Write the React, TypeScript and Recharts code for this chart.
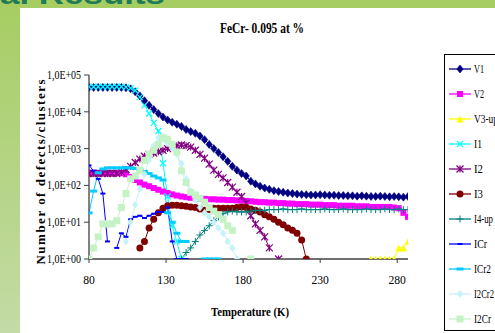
import React from 'react';
import { LineChart, Line, XAxis, YAxis } from 'recharts';

const N = null;

const temps = [
  80, 83, 86, 89, 92, 95, 98, 101, 104, 107,
  110, 113, 116, 119, 122, 125, 128, 131, 134, 137,
  140, 143, 146, 149, 152, 155, 158, 161, 164, 167,
  170, 173, 176, 179, 182, 185, 188, 191, 194, 197,
  200, 203, 206, 209, 212, 215, 218, 221, 224, 227,
  230, 233, 236, 239, 242, 245, 248, 251, 254, 257,
  260, 263, 266, 269, 272, 275, 278, 281, 284, 287,
];

const v1 = [
  46000, 46000, 46000, 46000, 46000, 46000, 46000, 46000, 45000, 42000,
  35000, 27000, 20000, 15000, 11500, 9000, 7200, 6000, 5200, 4600,
  4000, 3300, 2900, 2600, 2200, 1750, 1300, 1000, 780, 600,
  450, 330, 260, 210, 180, 130, 110, 95, 85, 78,
  72, 68, 65, 62, 60, 58, 57, 56, 55, 55,
  56, 55, 54, 54, 53, 53, 52, 52, 51, 52,
  51, 50, 50, 51, 50, 49, 50, 49, 48, 50,
];

const v2 = [
  220, 220, 220, 220, 220, 220, 220, 215, 200, 170,
  140, 120, 105, 95, 85, 76, 68, 62, 57, 53,
  50, 48, 46, 45, 44, 43, 42, 42, 41, 41,
  40, 40, 39, 39, 38, 37, 36, 35, 35, 34,
  34, 33, 33, 32, 32, 31, 31, 31, 30, 30,
  30, 29, 29, 29, 28, 28, 28, 28, 27, 27,
  27, 26, 26, 26, 26, 26, 25, 24, 18, 14,
];

const v3up = [
  N, N, N, N, N, N, N, N, N, N,
  N, N, N, N, N, N, N, N, N, N,
  N, N, N, N, N, N, N, N, N, N,
  N, N, N, N, N, N, N, N, N, N,
  N, N, N, N, N, N, N, N, N, N,
  N, N, N, N, N, N, N, N, N, N,
  N, 1, 1, 1, 1, 1, 1, 2, 2, 3,
];

const i1 = [
  48000, 48000, 48000, 48000, 48000, 48000, 48000, 48000, 47000, 44000,
  38000, 25000, 15000, 9000, 5000, 3000, 400, 50, 8, 3,
  1, N, N, N, N, N, N, N, N, N,
  N, N, N, N, N, N, N, N, N, N,
  N, N, N, N, N, N, N, N, N, N,
  N, N, N, N, N, N, N, N, N, N,
  N, N, N, N, N, N, N, N, N, N,
];

const i2 = [
  210, 210, 210, 210, 210, 210, 210, 230, 270, 330,
  420, 520, 620, 700, 750, 820, 900, 1000, 1100, 1200,
  1250, 1200, 1100, 900, 700, 550, 380, 260, 200, 160,
  120, 90, 65, 50, 33, 15, 9, 6, 4, 2,
  N, 1, N, N, N, N, N, N, N, N,
  N, N, N, N, N, N, N, N, N, N,
  N, N, N, N, N, N, N, N, N, N,
];

const i3 = [
  N, N, N, N, N, N, N, N, N, N,
  N, 2, 3, 7, 12, 18, 24, 28, 29, 29,
  28, 27, 26, 25, 23, 21, 22, 24, 24, 24,
  24, 24, 25, 26, 25, 23, 21, 19, 16, 14,
  12, 10, 8.5, 7, 6, 5, 3.3, 1, N, N,
  N, N, N, N, N, N, N, N, N, N,
  N, N, N, N, N, N, N, N, N, N,
];

const i4up = [
  N, N, N, N, N, N, N, N, N, N,
  N, N, N, N, N, N, N, N, N, N,
  1, 1.5, 2, 3, 4.5, 6, 8, 11, 14, 17,
  19, 20, 19, 19, 19, 20, 21, 21, 21, 22,
  22, 22, 23, 22, 22, 22, 23, 22, 22, 22,
  22, 23, 22, 22, 22, 23, 22, 22, 22, 22,
  23, 22, 22, 22, 23, 22, 22, 23, 22, 22,
];

const icr = [
  350, 250, 150, 60, 3, N, 2, 5, 4, 12,
  14, 15, 13, 15, 17, 19, 19, 25, 3, 1,
  1, 1, N, N, N, 1, 1, 1, 1, N,
  N, N, N, N, N, N, N, N, N, N,
  N, N, N, N, N, N, N, N, N, N,
  N, N, N, N, N, N, N, N, N, N,
  N, N, N, N, N, N, N, N, N, N,
];

const icr2 = [
  18, 70, 220, 280, 300, 300, 300, 300, 300, 300,
  290, 270, 240, 210, 180, 160, 140, 18, 10, 5,
  3, 3, N, N, N, 1, 1, 1, 1, N,
  N, N, N, N, N, N, N, N, N, N,
  N, N, N, N, N, N, N, N, N, N,
  N, N, N, N, N, N, N, N, N, N,
  N, N, N, N, N, N, N, N, N, N,
];

const i2cr2 = [
  N, N, N, N, N, N, N, N, 3, 10,
  30, 80, 200, 500, 1200, 2000, 1800, 1400, 1000, 700,
  400, 150, 70, 40, 25, 18, 14, 10, 7, 5,
  3, 2, 1, N, N, N, N, N, N, N,
  N, N, N, N, N, N, N, N, N, N,
  N, N, N, N, N, N, N, N, N, N,
  N, N, N, N, N, N, N, N, N, N,
];

const i2cr = [
  1, 2, 4, 9, 9, 9, 11, 25, 60, 150,
  180, 260, 480, 700, 900, 1300, 2000, 1800, 1300, 800,
  250, 120, 65, 55, 45, 35, 25, 20, 16, 12,
  8, 6, N, N, N, 1, N, N, N, N,
  N, N, N, N, N, N, N, N, N, N,
  N, N, N, N, N, N, N, N, N, N,
  N, N, N, N, N, N, N, N, N, N,
];

const xTicks = [80, 130, 180, 230, 280];
const yTicks = [1, 10, 100, 1000, 10000, 100000];

type Shape = 'diamond' | 'square' | 'triangle' | 'x' | 'star' | 'circle' | 'plus' | 'dash' | 'bar';

interface SeriesDef {
  key: string;
  name: string;
  color: string;
  shape: Shape;
  size: number;
  labelWidth: number;
  values: (number | null)[];
}

const series: SeriesDef[] = [
  { key: 'v1', name: 'V1', color: '#000080', shape: 'diamond', size: 8, labelWidth: 10, values: v1 },
  { key: 'v2', name: 'V2', color: '#ff00ff', shape: 'square', size: 6, labelWidth: 10, values: v2 },
  { key: 'v3up', name: 'V3-up', color: '#ffff00', shape: 'triangle', size: 7, labelWidth: 24, values: v3up },
  { key: 'i1', name: 'I1', color: '#00ffff', shape: 'x', size: 6, labelWidth: 8, values: i1 },
  { key: 'i2', name: 'I2', color: '#800080', shape: 'star', size: 7, labelWidth: 9, values: i2 },
  { key: 'i3', name: 'I3', color: '#800000', shape: 'circle', size: 7, labelWidth: 9, values: i3 },
  { key: 'i4up', name: 'I4-up', color: '#008080', shape: 'plus', size: 7, labelWidth: 19, values: i4up },
  { key: 'icr', name: 'ICr', color: '#0000ff', shape: 'dash', size: 5, labelWidth: 13, values: icr },
  { key: 'icr2', name: 'ICr2', color: '#00ccff', shape: 'bar', size: 7, labelWidth: 17, values: icr2 },
  { key: 'i2cr2', name: 'I2Cr2', color: '#c4f2fb', shape: 'diamond', size: 7, labelWidth: 20, values: i2cr2 },
  { key: 'i2cr', name: 'I2Cr', color: '#c6f3c6', shape: 'square', size: 7, labelWidth: 17, values: i2cr },
];

const rows = temps.map((t, i) => {
  const row: Record<string, number | null> = { t };
  series.forEach((s) => {
    row[s.key] = s.values[i];
  });
  return row;
});

const serif = '"Liberation Serif", "Times New Roman", serif';

function Marker({ shape, color, size, cx, cy }: { shape: Shape; color: string; size: number; cx: number; cy: number }) {
  const h = size / 2;
  switch (shape) {
    case 'diamond':
      return (
        <polygon
          points={`${cx},${cy - h} ${cx + h * 0.8},${cy} ${cx},${cy + h} ${cx - h * 0.8},${cy}`}
          fill={color}
          stroke={color}
          strokeWidth={0.6}
        />
      );
    case 'square':
      return <rect x={cx - h} y={cy - h} width={size} height={size} fill={color} />;
    case 'triangle':
      return <polygon points={`${cx},${cy - h} ${cx + h},${cy + h} ${cx - h},${cy + h}`} fill={color} />;
    case 'x':
      return (
        <path
          d={`M${cx - h},${cy - h}L${cx + h},${cy + h}M${cx - h},${cy + h}L${cx + h},${cy - h}`}
          stroke={color}
          strokeWidth={1.2}
        />
      );
    case 'star':
      return (
        <path
          d={`M${cx - h},${cy - h}L${cx + h},${cy + h}M${cx - h},${cy + h}L${cx + h},${cy - h}M${cx},${cy - h}L${cx},${cy + h}`}
          stroke={color}
          strokeWidth={1.2}
        />
      );
    case 'circle':
      return <circle cx={cx} cy={cy} r={h} fill={color} />;
    case 'plus':
      return <path d={`M${cx - h},${cy}L${cx + h},${cy}M${cx},${cy - h}L${cx},${cy + h}`} stroke={color} strokeWidth={1} />;
    case 'dash':
      return <rect x={cx - h} y={cy - 1} width={size} height={2} fill={color} />;
    case 'bar':
      return <rect x={cx - h} y={cy - 1.5} width={size} height={3} fill={color} />;
    default:
      return null;
  }
}

const expLabel = (v: number) => `1,0E+0${Math.round(Math.log10(v))}`;

function YTick(props: any) {
  const { x, y, payload } = props;
  return (
    <text x={x} y={y} dy={4} textAnchor="end" fontFamily={serif} fontSize={12} fill="#000"
      textLength={34} lengthAdjust="spacingAndGlyphs">
      {expLabel(payload.value)}
    </text>
  );
}

function XTick(props: any) {
  const { x, y, payload } = props;
  const label = String(payload.value);
  return (
    <text x={x} y={y} dy={19} textAnchor="middle" fontFamily={serif} fontSize={13} fill="#000"
      textLength={label.length * 5.8} lengthAdjust="spacingAndGlyphs">
      {label}
    </text>
  );
}

export default function App() {
  return (
    <div style={{ position: 'absolute', left: 0, top: 0, width: 495, height: 333, overflow: 'hidden', background: '#fff' }}>
      <svg width={495} height={333} style={{ position: 'absolute', left: 0, top: 0 }}>
        <defs>
          <linearGradient id="slideGreen" x1="0" y1="0" x2="0" y2="1">
            <stop offset="0" stopColor="#a6cd62" />
            <stop offset="1" stopColor="#c3dba6" />
          </linearGradient>
        </defs>
        <rect x={0} y={0} width={495} height={333} fill="url(#slideGreen)" />
        <text x={0} y={4} fontFamily="Arial, sans-serif" fontWeight="bold" fontSize={28} fill="#1f7a55"
          textLength={165} lengthAdjust="spacingAndGlyphs">
          al Results
        </text>
        <rect x={20} y={8} width={475} height={325} fill="#fff" />
      </svg>

      <div style={{ position: 'absolute', left: 0, top: 0 }}>
        <LineChart width={495} height={333} data={rows} margin={{ top: 75, right: 87, bottom: 44, left: 0 }}>
          <XAxis
            dataKey="t"
            type="number"
            domain={[80, 287]}
            ticks={xTicks}
            interval={0}
            allowDataOverflow
            height={30}
            tickSize={4}
            tickMargin={2}
            tick={<XTick />}
            axisLine={{ stroke: '#404040', strokeWidth: 1.3 }}
            tickLine={{ stroke: '#404040' }}
          />
          <YAxis
            type="number"
            scale="log"
            domain={[1, 100000]}
            ticks={yTicks}
            interval={0}
            allowDataOverflow
            width={89}
            tickSize={5}
            tickMargin={3}
            tick={<YTick />}
            axisLine={{ stroke: '#404040', strokeWidth: 1.3 }}
            tickLine={{ stroke: '#404040' }}
          />
          {series.map((s) => (
            <Line
              key={s.key}
              dataKey={s.key}
              name={s.name}
              type="linear"
              stroke={s.color}
              strokeWidth={1}
              connectNulls={false}
              isAnimationActive={false}
              activeDot={false}
              dot={(p: any) => {
                const k = `${s.key}-${p.index}`;
                if (p.cy == null || p.value == null || Number.isNaN(p.cy)) return <g key={k} />;
                return (
                  <g key={k}>
                    <Marker shape={s.shape} color={s.color} size={s.size} cx={p.cx} cy={p.cy} />
                  </g>
                );
              }}
            />
          ))}
        </LineChart>
      </div>

      <svg width={495} height={333} style={{ position: 'absolute', left: 0, top: 0, pointerEvents: 'none' }}>
        <text x={262} y={33} textAnchor="middle" fontFamily={serif} fontWeight="bold" fontSize={14}
          textLength={84} lengthAdjust="spacingAndGlyphs">
          FeCr- 0.095 at %
        </text>
        <text x={250} y={316} textAnchor="middle" fontFamily={serif} fontWeight="bold" fontSize={12}
          textLength={78} lengthAdjust="spacingAndGlyphs">
          Temperature (K)
        </text>
        <text transform="translate(45,172) rotate(-90)" textAnchor="middle" fontFamily={serif} fontWeight="bold"
          fontSize={13} textLength={185} lengthAdjust="spacing">
          Number of defects/clusters
        </text>

        <rect x={444.5} y={54.5} width={60} height={276} fill="#fff" stroke="#000" strokeWidth={1} />
        {series.map((s, i) => {
          const y = 69 + i * 25;
          return (
            <g key={s.key}>
              <line x1={449} x2={471} y1={y} y2={y} stroke={s.color} strokeWidth={1.3} />
              <Marker shape={s.shape} color={s.color} size={s.size} cx={460} cy={y} />
              <text x={474} y={y + 4} fontFamily={serif} fontSize={12} fill="#000"
                textLength={s.labelWidth} lengthAdjust="spacingAndGlyphs">
                {s.name}
              </text>
            </g>
          );
        })}
      </svg>
    </div>
  );
}
